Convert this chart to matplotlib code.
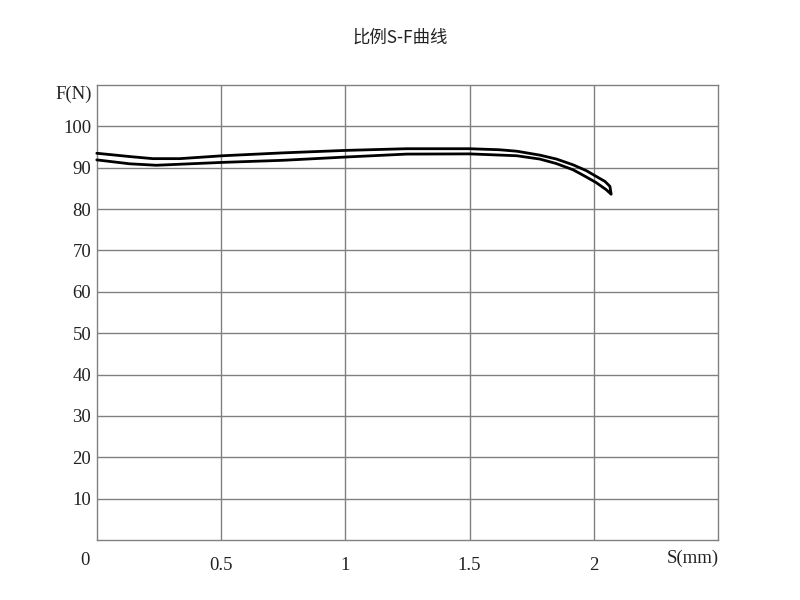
import matplotlib
matplotlib.use("Agg")
import matplotlib.pyplot as plt

# data
upper_s = [0.0, 0.133, 0.225, 0.334, 0.507, 0.75, 1.005, 1.247, 1.5, 1.62, 1.69, 1.783, 1.85, 1.917, 1.97, 2.01, 2.045, 2.065, 2.07]
upper_f = [93.5, 92.7, 92.2, 92.2, 92.9, 93.6, 94.2, 94.6, 94.6, 94.35, 94.0, 93.05, 92.1, 90.7, 89.3, 87.9, 86.7, 85.5, 83.6]
lower_s = [2.07, 2.05, 2.01, 1.96, 1.917, 1.85, 1.783, 1.69, 1.5, 1.247, 1.005, 0.75, 0.507, 0.24, 0.133, 0.0]
lower_f = [83.6, 84.7, 86.4, 88.1, 89.5, 91.0, 92.1, 92.9, 93.35, 93.3, 92.6, 91.8, 91.3, 90.6, 90.95, 91.9]

x_ticks = [0.5, 1, 1.5, 2]
x_labels = ["0.5", "1", "1.5", "2"]
y_ticks = [10, 20, 30, 40, 50, 60, 70, 80, 90, 100]
y_labels = [str(v) for v in y_ticks]

num_font = dict(family="Liberation Serif")
fs = 13.5

fig = plt.figure(figsize=(8, 6), dpi=100)
ax = fig.add_axes([0.121, 0.1, 0.7765, 0.7583])
ax.set_xlim(0, 2.5)
ax.set_ylim(0, 110)

for x in [0.5, 1, 1.5, 2]:
    ax.axvline(x, color="#808080", lw=1, zorder=1)
for y in y_ticks:
    ax.axhline(y, color="#808080", lw=1, zorder=1)
for sp in ax.spines.values():
    sp.set_color("#808080")
    sp.set_linewidth(1)

ax.plot(upper_s + lower_s, upper_f + lower_f, color="black", lw=2, zorder=3,
        solid_joinstyle="round", solid_capstyle="round", clip_on=False)

ax.set_xticks(x_ticks)
ax.set_xticklabels(x_labels, fontsize=fs, **num_font)
ax.set_yticks(y_ticks)
ax.set_yticklabels(y_labels, fontsize=fs, **num_font)
ax.tick_params(length=0, pad=12, colors="#222222")
ax.tick_params(axis="y", pad=4)

ax.text(-0.048, -5.0, "0", ha="center", va="center", fontsize=fs, color="#222222", **num_font)
ax.text(2.505, -4.4, "S(mm)", ha="right", va="center", fontsize=fs, color="#222222", **num_font)
ax.text(-0.02, 107.7, "F(N)", ha="right", va="center", fontsize=fs, color="#222222", **num_font)

fig.text(0.5, 0.938, "比例S-F曲线", ha="center", va="center", fontsize=12.5,
         family=["Noto Sans CJK SC", "DejaVu Sans"], color="#222222")

fig.savefig("out.png", dpi=100, facecolor="white")
